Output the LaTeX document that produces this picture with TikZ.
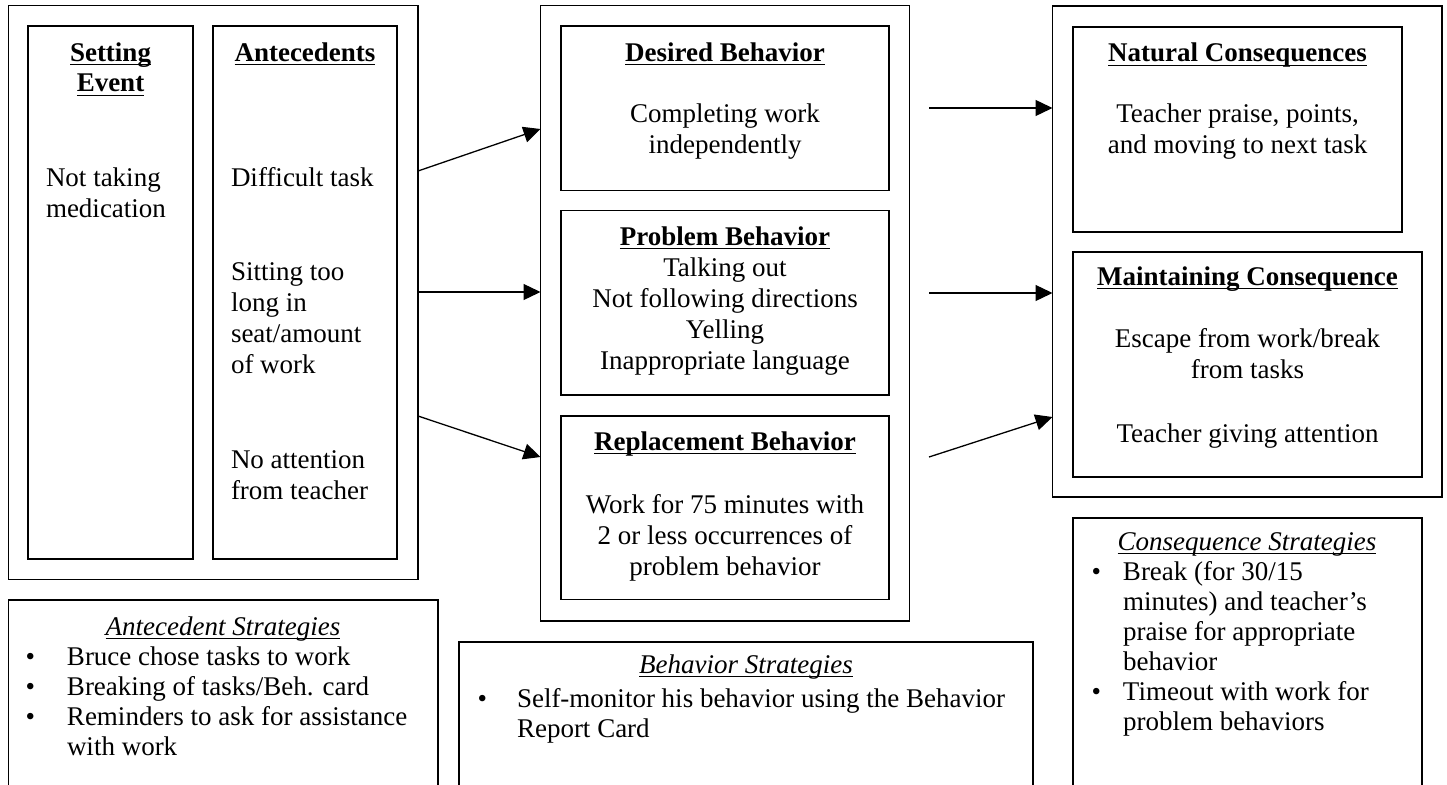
\documentclass[tikz,border=0pt]{standalone}
\usepackage{fontspec}
\setmainfont{Liberation Serif}
\usetikzlibrary{arrows.meta}
\newcommand\ulin[1]{\setbox0\hbox{#1}\rlap{\vrule height -2.6pt depth 4.0pt width \wd0}\box0}
\newcommand\bul[1]{\llap{\normalfont•\hspace{#1}}}
\tikzset{
  bx/.style={draw, line width=1.3pt, anchor=north west, inner sep=0pt, outer sep=0pt},
  tx/.style={font=\fontsize{27}{31}\selectfont, inner sep=0pt, outer sep=0pt},
  ctr/.style={tx, align=center, anchor=base},
  lft/.style={tx, align=left, anchor=base west},
  lst/.style={lft, font=\fontsize{27}{30}\selectfont},
  ttl/.style={ctr, font=\fontsize{27}{31}\selectfont\bfseries},
  itl/.style={ctr, font=\fontsize{27}{31}\selectfont\itshape},
  arr/.style={line width=1.3pt, -{Triangle[length=17pt,width=16pt]}}
}
\begin{document}
\begin{tikzpicture}[x=1pt,y=1pt]
\useasboundingbox (0,0) rectangle (1447,-784);
\clip (0,0) rectangle (1447,-784);
\fill[white] (0,0) rectangle (1447,-784);
% left group
\node[bx, minimum width=409.5pt, minimum height=574pt] (lo) at (8.5,-5.5) {};
\node[bx, minimum width=165pt, minimum height=533pt] (se) at (28,-26) {};
\node[bx, minimum width=184pt, minimum height=533pt] (an) at (213,-26) {};
% middle group
\node[bx, minimum width=369pt, minimum height=615.5pt] (mo) at (540.5,-5.5) {};
\node[bx, minimum width=328pt, minimum height=164.5pt] (db) at (561,-26) {};
\node[bx, minimum width=328pt, minimum height=184.5pt] (pb) at (561,-210.5) {};
\node[bx, minimum width=328pt, minimum height=183.5pt] (rb) at (561,-416) {};
% right group
\node[bx, minimum width=389.5pt, minimum height=491pt] (ro) at (1052.5,-6) {};
\node[bx, minimum width=329pt, minimum height=205pt] (nc) at (1073,-27) {};
\node[bx, minimum width=349pt, minimum height=225pt] (mc) at (1073,-252) {};
% strategy boxes
\node[bx, minimum width=429.5pt, minimum height=190pt] (as) at (8.5,-600) {};
\node[bx, minimum width=574pt, minimum height=150pt] (bs) at (459,-642) {};
\node[bx, minimum width=349pt, minimum height=272pt] (cs) at (1073,-518) {};

% texts (multi-line nodes: base = baseline of last line)
\node[ttl] (set) at (110.5,-92) {\ulin{Setting}\\\ulin{Event}};
\node[lft] (setb) at (46,-217) {Not taking\\medication};
\node[ttl] (ant) at (305,-61) {\ulin{Antecedents}};
\node[lft] (ant1) at (231,-186) {Difficult task};
\node[lft] (ant2) at (231,-373) {Sitting too\\long in\\seat/amount\\of work};
\node[lft] (ant3) at (231,-499) {No attention\\from teacher};

\node[ttl] (dbt) at (725,-61) {\ulin{Desired Behavior}};
\node[ctr] (dbb) at (725,-153.5) {Completing work\\independently};
\node[ttl] (pbt) at (725,-245) {\ulin{Problem Behavior}};
\node[ctr] (pbb) at (725,-369) {Talking out\\Not following directions\\Yelling\\Inappropriate language};
\node[ttl] (rbt) at (725,-450) {\ulin{Replacement Behavior}};
\node[ctr] (rbb) at (725,-575) {Work for 75 minutes with\\2 or less occurrences of\\problem behavior};

\node[ttl] (nct) at (1237.5,-62) {\ulin{Natural Consequences}};
\node[ctr] (ncb) at (1237.5,-153) {Teacher praise, points,\\and moving to next task};
\node[ttl] (mct) at (1247.5,-285) {\ulin{Maintaining Consequence}};
\node[ctr] (mcb1) at (1247.5,-378) {Escape from work/break\\from tasks};
\node[ctr] (mcb2) at (1247.5,-442) {Teacher giving attention};

\node[itl] (ast) at (223,-635) {\ulin{Antecedent Strategies}};
\node[lst] (as1) at (67,-665) {\bul{32pt}Bruce chose tasks to work};
\node[lst] (as2) at (67,-695) {\bul{32pt}Breaking of tasks/Beh. card};
\node[lst] (as3) at (67,-755) {\bul{32pt}Reminders to ask for assistance\\with work};

\node[itl] (bst) at (746,-673) {\ulin{Behavior Strategies}};
\node[lst] (bs1) at (517,-737) {\bul{30pt}Self-monitor his behavior using the Behavior\\Report Card};

\node[itl] (cst) at (1247,-550) {\ulin{Consequence Strategies}};
\node[lst] (cs1) at (1123,-670) {\bul{22pt}Break (for 30/15\\minutes) and teacher’s\\praise for appropriate\\behavior};
\node[lst] (cs2) at (1123,-730) {\bul{22pt}Timeout with work for\\problem behaviors};

% connectors
\coordinate (a1s) at (lo.east |- 0,-171);
\coordinate (a1e) at (mo.west |- 0,-129);
\coordinate (a2s) at (lo.east |- 0,-292);
\coordinate (a2e) at (mo.west |- 0,-292);
\coordinate (a3s) at (lo.east |- 0,-416);
\coordinate (a3e) at (mo.west |- 0,-457);
\coordinate (a4s) at (929,-108);
\coordinate (a4e) at (ro.west |- 0,-108);
\coordinate (a5s) at (929,-293);
\coordinate (a5e) at (ro.west |- 0,-293);
\coordinate (a6s) at (929,-457);
\coordinate (a6e) at (ro.west |- 0,-417);
\draw[arr] (a1s) -- (a1e);
\draw[arr] (a2s) -- (a2e);
\draw[arr] (a3s) -- (a3e);
\draw[arr] (a4s) -- (a4e);
\draw[arr] (a5s) -- (a5e);
\draw[arr] (a6s) -- (a6e);
\end{tikzpicture}
\end{document}
